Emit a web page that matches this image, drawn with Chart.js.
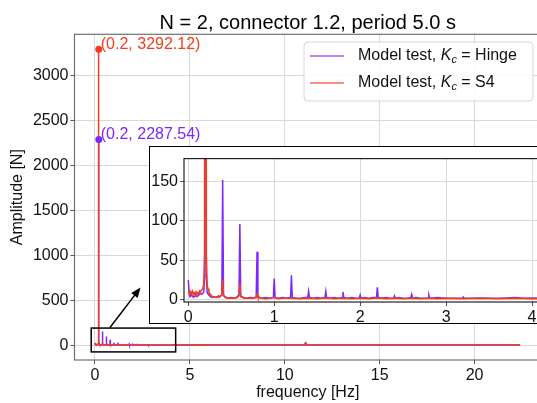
<!DOCTYPE html>
<html>
<head>
<meta charset="utf-8">
<script src="https://cdn.jsdelivr.net/npm/chart.js@4.4.1/dist/chart.umd.min.js"></script>
<style>
  html, body { margin: 0; padding: 0; background: #fff; overflow: hidden; }
  #wrap { position: relative; width: 537px; height: 403px; overflow: hidden; }
  #mainChart { position: absolute; left: 0; top: 0; }
  #insetBox { position: absolute; left: 149px; top: 146px; border: 1.5px solid #000; background: #fff; width: 425px; height: 176px; }
  #insetChart { position: absolute; left: 0; top: 0; }
</style>
</head>
<body>
<div id="wrap">
  <canvas id="mainChart" width="616" height="403"></canvas>
  <div id="insetBox"><canvas id="insetChart" width="425" height="176"></canvas></div>
</div>
<script>
// spectrum, K_c = Hinge
const hingeFreq = [0.00, 0.01, 0.02, 0.04, 0.06, 0.08, 0.10, 0.12, 0.14, 0.16, 0.18, 0.19, 0.20, 0.21, 0.22, 0.24, 0.27, 0.30, 0.33, 0.35, 0.37, 0.39,
  0.40, 0.41, 0.43, 0.46, 0.50, 0.54, 0.57, 0.59, 0.60, 0.61, 0.64, 0.68, 0.72, 0.76, 0.79, 0.80, 0.81, 0.85, 0.90, 0.95, 0.99,
  1.00, 1.01, 1.05, 1.10, 1.15, 1.19, 1.20, 1.21, 1.25, 1.30, 1.35, 1.39, 1.40, 1.41, 1.45, 1.50, 1.55, 1.59, 1.60, 1.61, 1.65,
  1.70, 1.75, 1.79, 1.80, 1.81, 1.85, 1.90, 1.95, 1.99, 2.00, 2.01, 2.05, 2.10, 2.15, 2.19, 2.20, 2.21, 2.25, 2.30, 2.35, 2.39,
  2.40, 2.41, 2.45, 2.50, 2.55, 2.59, 2.60, 2.61, 2.65, 2.70, 2.75, 2.79, 2.80, 2.81, 2.90, 3.00, 3.10, 3.19, 3.20, 3.21, 3.30,
  3.40, 3.50, 3.60, 3.70, 3.80, 3.90, 4.00, 4.20, 4.50, 5.00, 6.00, 8.00, 10.00, 11.20, 12.00, 15.00, 18.00, 20.00, 22.40];
const hingeAmp = [25, 7, 4, 6, 3, 5, 4, 6, 8, 7, 10, 30, 2287.54, 28, 9, 6, 3, 4, 3, 5, 4, 6,
  152, 5, 4, 2, 3, 2, 4, 7, 96, 5, 3, 2, 3, 2, 4, 61, 4, 2, 3, 2, 3,
  27, 3, 2, 3, 2, 3, 31, 3, 2, 2, 3, 3, 11, 3, 2, 3, 2, 3, 11, 3, 2,
  3, 2, 3, 10, 3, 2, 3, 2, 2, 6, 2, 3, 2, 3, 3, 16, 3, 2, 3, 2, 2,
  5, 2, 3, 2, 2, 3, 7, 2, 3, 2, 2, 2, 6, 2, 3, 2, 2, 2, 3.5, 2, 2,
  2.5, 2, 2, 2.5, 3, 2, 2.5, 2, 2, 1.5, 1.5, 1, 1, 3, 1, 1, 1, 1, 1];

// spectrum, K_c = S4
const s4Freq = [0.00, 0.01, 0.02, 0.03, 0.04, 0.05, 0.06, 0.07, 0.08, 0.09, 0.10, 0.11, 0.12, 0.13, 0.14, 0.15, 0.16, 0.17, 0.18, 0.19,
  0.20, 0.21, 0.22, 0.23, 0.24, 0.25, 0.27, 0.29, 0.31, 0.33, 0.35, 0.37, 0.39, 0.40, 0.41, 0.43, 0.46, 0.50, 0.54, 0.57, 0.59,
  0.60, 0.61, 0.65, 0.70, 0.75, 0.79, 0.80, 0.81, 0.85, 0.90, 0.95, 1.00, 1.05, 1.10, 1.20, 1.30, 1.40, 1.50, 1.60, 1.70, 1.80,
  1.90, 2.00, 2.10, 2.20, 2.30, 2.40, 2.50, 2.60, 2.70, 2.80, 2.90, 3.00, 3.20, 3.40, 3.60, 3.80, 4.00, 4.50, 5.00, 5.80, 6.00,
  8.00, 10.00, 11.00, 11.10, 11.20, 12.00, 15.00, 18.00, 20.00, 22.40];
const s4Amp = [9, 11, 7, 10, 8, 11, 7, 9, 6, 10, 7, 9, 8, 11, 9, 12, 13, 15, 20, 60,
  3292.12, 55, 18, 14, 10, 8, 5, 4, 3, 4, 3, 4, 7, 26, 6, 3, 2, 2.5, 2, 3, 5,
  21, 4, 2, 2, 2, 3, 7, 3, 2, 1.5, 2, 3, 1.5, 2, 2, 1.5, 2, 1.5, 2.5, 1.5, 2,
  1.5, 2, 1.5, 2.5, 1.5, 2, 1.5, 2, 1.5, 2, 1.5, 2, 1.5, 2, 1.5, 2, 1.5, 1.5, 1, 4, 1,
  1, 1, 1, 30, 1, 1, 1, 1, 1, 1];

// marked peak
const peakFreq = [0.2];
const peakHinge = [2287.54];
const peakS4 = [3292.12];

const mainXTicks = [0, 5, 10, 15, 20];
const mainYTicks = [0, 500, 1000, 1500, 2000, 2500, 3000];
const insetXTicks = [0, 1, 2, 3, 4];
const insetYTicks = [0, 50, 100, 150];

// zoom rectangle and arrow, in data units of the main axes
const zoomBoxX = [-0.2, 4.25];
const zoomBoxY = [-75, 190];
const arrowFrom = [0.79, 197];
const arrowTo = [2.4, 641];

const titleText = 'N = 2, connector 1.2, period 5.0 s';

const FONT = '"Liberation Sans", Arial, Helvetica, sans-serif';
const PURPLE = 'rgb(125, 40, 255)';
const RED = 'rgb(240, 62, 30)';

function toXY(xs, ys) {
  return xs.map((x, i) => ({ x: x, y: ys[i] }));
}

function lineSet(label, xs, ys, color, order) {
  return { label: label, data: toXY(xs, ys), borderColor: color, borderWidth: 1.5,
    pointRadius: 0, tension: 0, fill: false, order: order };
}

// full box round the plot area
const framePlugin = {
  id: 'frame',
  afterDatasetsDraw(chart, args, opts) {
    const a = chart.chartArea, ctx = chart.ctx;
    ctx.save();
    ctx.strokeStyle = opts.color;
    ctx.lineWidth = opts.width;
    ctx.strokeRect(a.left, a.top, a.right - a.left, a.bottom - a.top);
    ctx.restore();
  }
};

// title, zoom box, arrow, peak labels and legend for the main plot
const mainDecor = {
  id: 'mainDecor',
  afterDatasetsDraw(chart) {
    const ctx = chart.ctx, xs = chart.scales.x, ys = chart.scales.y;
    const area = chart.chartArea;
    ctx.save();
    // title centred over the axes
    ctx.fillStyle = '#000';
    ctx.font = '20px ' + FONT;
    ctx.textAlign = 'center';
    ctx.textBaseline = 'alphabetic';
    ctx.fillText(titleText, (area.left + area.right) / 2, 29);

    ctx.strokeStyle = '#000';
    ctx.lineWidth = 1.5;
    const x0 = xs.getPixelForValue(zoomBoxX[0]), x1 = xs.getPixelForValue(zoomBoxX[1]);
    const y0 = ys.getPixelForValue(zoomBoxY[1]), y1 = ys.getPixelForValue(zoomBoxY[0]);
    ctx.strokeRect(x0, y0, x1 - x0, y1 - y0);

    const ax = xs.getPixelForValue(arrowFrom[0]), ay = ys.getPixelForValue(arrowFrom[1]);
    const bx = xs.getPixelForValue(arrowTo[0]), by = ys.getPixelForValue(arrowTo[1]);
    const ang = Math.atan2(by - ay, bx - ax);
    ctx.beginPath();
    ctx.moveTo(ax, ay);
    ctx.lineTo(bx - 7 * Math.cos(ang), by - 7 * Math.sin(ang));
    ctx.stroke();
    ctx.fillStyle = '#000';
    ctx.beginPath();
    ctx.moveTo(bx, by);
    ctx.lineTo(bx - 10 * Math.cos(ang) + 4 * Math.sin(ang), by - 10 * Math.sin(ang) - 4 * Math.cos(ang));
    ctx.lineTo(bx - 10 * Math.cos(ang) - 4 * Math.sin(ang), by - 10 * Math.sin(ang) + 4 * Math.cos(ang));
    ctx.closePath();
    ctx.fill();

    // peak labels
    ctx.font = '16px ' + FONT;
    ctx.textBaseline = 'alphabetic';
    ctx.textAlign = 'left';
    const px = xs.getPixelForValue(peakFreq[0]) + 2;
    ctx.fillStyle = RED;
    ctx.fillText('(' + peakFreq[0] + ', ' + peakS4[0] + ')', px, ys.getPixelForValue(peakS4[0]));
    ctx.fillStyle = PURPLE;
    ctx.fillText('(' + peakFreq[0] + ', ' + peakHinge[0] + ')', px, ys.getPixelForValue(peakHinge[0]));
    ctx.restore();
  },
  afterDraw(chart) {
    const ctx = chart.ctx;
    ctx.save();
    // legend frame
    const lx = 304, ly = 42, lw = 229, lh = 59, r = 4;
    ctx.beginPath();
    ctx.moveTo(lx + r, ly);
    ctx.arcTo(lx + lw, ly, lx + lw, ly + lh, r);
    ctx.arcTo(lx + lw, ly + lh, lx, ly + lh, r);
    ctx.arcTo(lx, ly + lh, lx, ly, r);
    ctx.arcTo(lx, ly, lx + lw, ly, r);
    ctx.closePath();
    ctx.fillStyle = 'rgba(255,255,255,0.8)';
    ctx.fill();
    ctx.strokeStyle = '#d6d6d6';
    ctx.lineWidth = 1;
    ctx.stroke();

    const entries = [['Hinge', PURPLE, 56], ['S4', RED, 83]];
    entries.forEach(([name, color, y]) => {
      ctx.strokeStyle = color;
      ctx.globalAlpha = 0.75;
      ctx.lineWidth = 1.5;
      ctx.beginPath();
      ctx.moveTo(310, y);
      ctx.lineTo(344, y);
      ctx.stroke();
      ctx.globalAlpha = 1;
      ctx.fillStyle = '#111';
      ctx.textBaseline = 'middle';
      let x = 358;
      ctx.font = '16px ' + FONT;
      ctx.fillText('Model test, ', x, y);
      x += ctx.measureText('Model test, ').width;
      ctx.font = 'italic 16px ' + FONT;
      ctx.fillText('K', x, y);
      x += ctx.measureText('K').width;
      ctx.font = 'italic 11px ' + FONT;
      ctx.fillText('c', x, y + 4);
      x += ctx.measureText('c').width;
      ctx.font = '16px ' + FONT;
      ctx.fillText(' = ' + name, x, y);
    });
    ctx.restore();
  }
};

function axisOpts(min, max, ticks, size, extra) {
  return Object.assign({
    type: 'linear', min: min, max: max,
    afterFit: s => { if (s.isHorizontal()) s.height = size; else s.width = size; },
    afterBuildTicks: s => { s.ticks = ticks.map(v => ({ value: v })); },
    grid: { color: '#d9d9d9', lineWidth: 1, tickColor: '#555', tickLength: 4 },
    border: { display: false },
    ticks: { font: { size: 16, family: FONT }, color: '#111', padding: 2, maxRotation: 0,
      callback: v => String(v) }
  }, extra || {});
}

Chart.defaults.font.family = FONT;

new Chart(document.getElementById('mainChart'), {
  type: 'line',
  data: {
    datasets: [
      { type: 'scatter', data: toXY(peakFreq, peakS4), backgroundColor: RED, borderWidth: 0, pointRadius: 3.5, order: 0 },
      { type: 'scatter', data: toXY(peakFreq, peakHinge), backgroundColor: PURPLE, borderWidth: 0, pointRadius: 3.5, order: 0 },
      lineSet('Model test, Kc = S4', s4Freq, s4Amp, RED, 1),
      lineSet('Model test, Kc = Hinge', hingeFreq, hingeAmp, PURPLE, 2)
    ]
  },
  options: {
    responsive: false, animation: false, devicePixelRatio: 1,
    layout: { padding: { left: 0, right: 75, top: 34.3, bottom: 0 } },
    plugins: {
      legend: { display: false }, tooltip: { enabled: false }, title: { display: false },
      frame: { color: '#707070', width: 1.2 }
    },
    scales: {
      x: axisOpts(-1.08, 23.5, mainXTicks, 43, {
        title: { display: true, text: 'frequency [Hz]', color: '#111', font: { size: 16, family: FONT }, padding: { top: 0, bottom: 1 } }
      }),
      y: axisOpts(-165, 3457, mainYTicks, 74.5, {
        title: { display: true, text: 'Amplitude [N]', color: '#111', font: { size: 16, family: FONT }, padding: { top: 8.4, bottom: 0 } }
      })
    }
  },
  plugins: [framePlugin, mainDecor]
});

new Chart(document.getElementById('insetChart'), {
  type: 'line',
  data: {
    datasets: [
      lineSet('S4', s4Freq, s4Amp, RED, 1),
      lineSet('Hinge', hingeFreq, hingeAmp, PURPLE, 2)
    ]
  },
  options: {
    responsive: false, animation: false, devicePixelRatio: 1,
    layout: { padding: 0 },
    plugins: { legend: { display: false }, tooltip: { enabled: false }, frame: { color: '#222', width: 1.2 } },
    scales: {
      x: axisOpts(-0.05, 4.5, insetXTicks, 21),
      y: axisOpts(-2.7, 179, insetYTicks, 34)
    }
  },
  plugins: [framePlugin]
});
</script>
</body>
</html>
